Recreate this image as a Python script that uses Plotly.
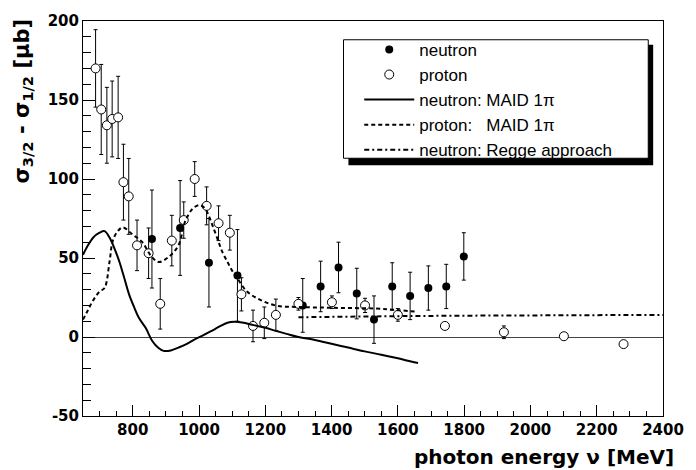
import plotly.graph_objects as go

# ---------------- data ----------------
neutron_E = [858, 943, 1030, 1116, 1313, 1367, 1421, 1476, 1528, 1583, 1637, 1692, 1746, 1799]
neutron_y = [62, 69, 47, 39, 20, 32, 44, 27.5, 11, 32, 26, 31, 32, 51]
neutron_err = [31, 30, 28, 29, 17, 16, 16, 16, 15, 15, 15, 14, 14, 15]

proton_E = [688, 705, 722, 738, 756, 772, 788, 813, 848, 883, 918, 954, 987, 1023,
            1059, 1093, 1128, 1163, 1197, 1232, 1300, 1401, 1501, 1600, 1742, 1920, 2101, 2281]
proton_y = [170, 144, 134, 138, 139, 98, 89, 58, 53, 21, 61, 74, 100, 83,
            72, 66, 27, 7, 9, 14, 21, 22, 20, 14, 7, 3, 0.5, -4.5]
proton_err = [24.5, 28.5, 24, 24, 26, 24, 24, 16, 16, 16, 16, 11.5, 11, 12,
              11, 11, 10.5, 10, 10, 10, 4, 4, 4.5, 4, 1, 4, 2, 2]

maid_n_E = [650, 665, 681, 700, 715, 730, 745, 760, 775, 789, 804, 819, 839, 859, 878, 893,
            915, 938, 962, 987, 1012, 1037, 1061, 1086, 1106, 1130, 1165, 1200, 1234, 1264,
            1300, 1350, 1400, 1450, 1500, 1550, 1600, 1640, 1661]
maid_n_y = [52, 58, 63, 66, 67, 63, 56, 47.5, 37, 27, 19, 12, 5.8, -2.5, -7, -8.8,
            -8.5, -6.7, -4.5, -1.5, 1, 3.75, 6.5, 9, 9.6, 9.2, 7.5, 5.8, 3.75, 2,
            0, -1.9, -4.3, -6.7, -9.1, -11.2, -13.5, -15.5, -16.5]

maid_p_E = [650, 665, 680, 700, 715, 730, 740, 755, 770, 799, 829, 854, 878, 908, 938,
            958, 980, 1000, 1015, 1027, 1040, 1056, 1070, 1086, 1100, 1116, 1145, 1185,
            1234, 1300, 1400, 1531, 1600, 1660]
maid_p_y = [11, 17, 23, 28.75, 31, 47.5, 61, 67, 69.4, 65, 60, 51.7, 47.5, 50.6, 58,
            73, 81, 83.5, 82, 78, 71, 62, 54, 47.5, 42, 37, 28.75, 23.5,
            19.8, 19, 18.5, 18, 17, 16]

regge_E = [1300, 1400, 1600, 1800, 2000, 2200, 2400]
regge_y = [12.5, 12.8, 13.2, 13.5, 13.7, 13.9, 14]

x_ticks = [800, 1000, 1200, 1400, 1600, 1800, 2000, 2200, 2400]
y_ticks = [-50, 0, 50, 100, 150, 200]

# ---------------- figure ----------------
BOLD = dict(family="DejaVu Sans", size=15, color="black", weight="bold")
LEG = dict(family="Liberation Sans, Arial", size=17, color="black")

fig = go.Figure()

fig.add_trace(go.Scatter(
    x=neutron_E, y=neutron_y, mode="markers", name="neutron",
    marker=dict(symbol="circle", size=8, color="black"),
    error_y=dict(type="data", array=neutron_err, color="black", thickness=1, width=2)))

fig.add_trace(go.Scatter(
    x=proton_E, y=proton_y, mode="markers", name="proton",
    marker=dict(symbol="circle", size=9, color="white", line=dict(color="black", width=1)),
    error_y=dict(type="data", array=proton_err, color="black", thickness=1, width=2)))

fig.add_trace(go.Scatter(
    x=maid_n_E, y=maid_n_y, mode="lines", name="neutron: MAID 1π",
    line=dict(color="black", width=2, shape="spline")))

fig.add_trace(go.Scatter(
    x=maid_p_E, y=maid_p_y, mode="lines", name="proton:   MAID 1π",
    line=dict(color="black", width=2, dash="4px,3px", shape="spline")))

fig.add_trace(go.Scatter(
    x=regge_E, y=regge_y, mode="lines", name="neutron: Regge approach",
    line=dict(color="black", width=2, dash="5px,3px,2px,3px")))

W, H = 696, 470
L, R, T, B = 83, 23, 16, 54
pw, ph = W - L - R, H - T - B

def px2x(px):
    return (px - L) / pw

def py2y(py):
    return (H - B - py) / ph

fig.update_layout(
    width=W, height=H,
    margin=dict(l=L, r=R, t=T, b=B),
    paper_bgcolor="white", plot_bgcolor="white",
    showlegend=True,
    legend=dict(
        x=px2x(364), y=py2y(27), xanchor="left", yanchor="top",
        bgcolor="rgba(0,0,0,0)", borderwidth=0,
        font=LEG, itemwidth=50, tracegroupgap=0),
    shapes=[
        dict(type="rect", xref="paper", yref="paper", layer="above",
             x0=px2x(353), x1=px2x(663), y0=py2y(162), y1=py2y(40),
             fillcolor="black", line=dict(width=0)),
        dict(type="rect", xref="paper", yref="paper", layer="above",
             x0=px2x(348), x1=px2x(658), y0=py2y(155), y1=py2y(35),
             fillcolor="white", line=dict(color="black", width=1)),
    ],
    annotations=[
        dict(text="σ<sub>3/2</sub> - σ<sub>1/2</sub> [μb]", textangle=-90,
             xref="paper", yref="paper", x=px2x(21), y=py2y(12),
             xanchor="center", yanchor="top", showarrow=False,
             font=dict(family="DejaVu Sans", size=21, color="black", weight="bold")),
        dict(text="photon energy ν [MeV]",
             xref="paper", yref="paper", x=px2x(686), y=py2y(458),
             xanchor="right", yanchor="middle", showarrow=False,
             font=dict(family="DejaVu Sans", size=20, color="black", weight="bold")),
    ],
)

fig.update_xaxes(
    range=[650, 2400], tickvals=x_ticks, ticktext=[str(v) for v in x_ticks],
    ticks="inside", ticklen=11, tickwidth=1, tickcolor="black",
    minor=dict(dtick=50, tick0=0, ticks="inside", ticklen=5, tickcolor="black", tickwidth=1),
    showline=True, linecolor="black", linewidth=1, mirror=True,
    showgrid=False, zeroline=False, tickfont=BOLD)

fig.update_yaxes(
    range=[-50, 200], tickvals=y_ticks, ticktext=[str(v) for v in y_ticks],
    ticks="inside", ticklen=12, tickwidth=1, tickcolor="black",
    minor=dict(dtick=10, tick0=0, ticks="inside", ticklen=8, tickcolor="black", tickwidth=1),
    showline=True, linecolor="black", linewidth=1, mirror=True,
    showgrid=False, zeroline=True, zerolinecolor="#444", zerolinewidth=1,
    tickfont=BOLD)

fig.write_html(
    "out.html",
    config={"displayModeBar": False},
    post_script="document.body.style.margin='0px';document.body.style.overflow='hidden';")
